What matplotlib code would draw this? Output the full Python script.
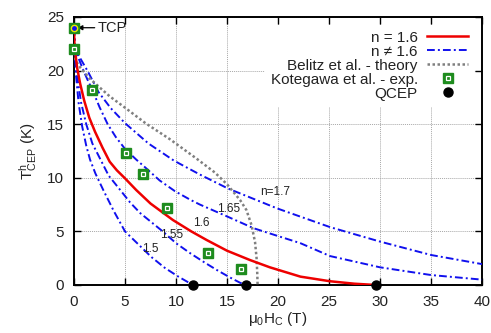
import matplotlib
matplotlib.use("Agg")
import matplotlib.pyplot as plt
from matplotlib.lines import Line2D

plt.rcParams['font.family'] = ['Liberation Sans', 'DejaVu Sans']
plt.rcParams['mathtext.default'] = 'regular'

# ---- data -------------------------------------------------------------
# n = 1.6 (red)
h_16 = [0, 0.05, 0.3, 0.6, 1.0, 1.5, 2.06, 2.8, 3.5, 4.2, 5.0, 6.1, 7.5, 9.7,
        11.5, 13.0, 15.0, 17.25, 19.2, 22.2, 25.1, 27.5, 29.6]
t_16 = [24, 22.3, 20.3, 18.8, 17.2, 15.6, 14.3, 12.8, 11.5, 10.7, 9.95, 8.86,
        7.6, 6.06, 5.0, 4.2, 3.2, 2.33, 1.65, 0.78, 0.35, 0.12, 0]

# n != 1.6 (blue)
h_15 = [0, 0.05, 0.2, 0.45, 0.8, 1.2, 1.57, 2.1, 2.9, 3.9, 5.0, 6.3, 7.6,
        8.9, 10.2, 11.2, 11.7]
t_15 = [24, 22.3, 19.5, 17.0, 14.8, 13.0, 11.7, 10.4, 8.8, 6.9, 5.0, 3.8,
        2.6, 1.6, 0.8, 0.25, 0]

h_155 = [0, 0.05, 0.3, 0.7, 1.2, 1.8, 2.6, 3.4, 4.5, 5.5, 6.5, 8.7, 10.0,
         11.4, 12.8, 14.0, 15.3, 16.3, 17.0]
t_155 = [24, 22.3, 19.5, 17.0, 15.0, 13.2, 11.7, 10.2, 8.9, 7.7, 6.7, 5.0,
         3.9, 2.96, 2.1, 1.4, 0.7, 0.2, 0]

h_165 = [0, 0.05, 0.3, 0.8, 1.3, 1.8, 2.5, 3.3, 4.1, 5.0, 6.1, 7.0, 8.4, 9.9,
         11.4, 12.35, 15.0, 17.6, 18.9, 22.2, 25.1, 30.0, 35.0, 40.0]
t_165 = [24, 22.5, 21.5, 20.3, 19.2, 18.2, 16.6, 15.0, 13.8, 12.7, 11.7,
         10.95, 9.75, 8.75, 7.95, 7.5, 6.4, 5.3, 4.9, 3.9, 2.7, 1.65, 0.93, 0.5]

h_17 = [0, 0.1, 0.4, 1.37, 2.4, 3.6, 5.0, 7.3, 9.8, 12.35, 15.1, 19.9, 25.1,
        30.0, 35.0, 40.0]
t_17 = [24, 22.5, 21.5, 19.9, 18.0, 16.5, 15.1, 13.2, 11.6, 10.3, 9.0, 7.15,
        5.4, 4.05, 2.8, 1.95]

# Belitz et al. - theory (grey)
h_bel = [0, 0.6, 1.5, 2.55, 3.5, 5.2, 7.0, 9.4, 12.0, 13.8, 15.0, 16.3, 16.9,
         17.4, 17.75, 17.9, 17.97, 18.0]
t_bel = [21.2, 20.3, 19.3, 18.4, 17.6, 16.4, 15.1, 13.6, 11.8, 10.5, 9.4,
         7.9, 7.0, 5.6, 4.0, 2.5, 1.0, 0]

# Kotegawa et al. - exp.
h_exp = [0, 0, 1.8, 5.1, 6.75, 9.1, 13.1, 16.4]
t_exp = [24, 22.0, 18.2, 12.3, 10.35, 7.2, 3.0, 1.5]

# QCEP
h_qcep = [11.7, 16.9, 29.6]
t_qcep = [0, 0, 0]

# TCP
h_tcp, t_tcp = 0, 24

# curve labels
lab_text = ['1.5', '1.55', '1.6', '1.65', 'n=1.7']
lab_h = [7.45, 9.55, 12.5, 15.2, 19.7]
lab_t = [3.4, 4.7, 5.8, 7.1, 8.7]

xticks = [0, 5, 10, 15, 20, 25, 30, 35, 40]
yticks = [0, 5, 10, 15, 20, 25]

# ---- figure -----------------------------------------------------------
fig = plt.figure(figsize=(4.91, 3.33), dpi=100)
ax = fig.add_axes([74 / 491, 48 / 333, 408 / 491, 268 / 333])

green = '#1e8c1e'
blue = '#1010ee'
dashdot = (0, (4, 1.6, 1, 1.6))

for h, t in [(h_15, t_15), (h_155, t_155), (h_165, t_165), (h_17, t_17)]:
    ax.plot(h, t, color=blue, lw=1.4, linestyle=dashdot, zorder=3)
ax.plot(h_bel, t_bel, color='#808080', lw=1.8, linestyle=(0, (1, 1)), zorder=3)
ax.plot(h_16, t_16, color='#ee0000', lw=1.8, zorder=4)

ax.plot(h_exp, t_exp, linestyle='none', marker='s', ms=7, mfc=green,
        mec=green, zorder=5, clip_on=False)
ax.plot(h_exp, t_exp, linestyle='none', marker='s', ms=3.2, mfc=green,
        mec='white', mew=0.9, zorder=6, clip_on=False)
ax.plot([h_tcp], [t_tcp], linestyle='none', marker='o', ms=4.5, mfc=blue,
        mec='#e8e800', mew=1.0, zorder=7, clip_on=False)
ax.plot(h_qcep, t_qcep, linestyle='none', marker='o', ms=6.5, color='black',
        zorder=7, clip_on=False)

for s, x, y in zip(lab_text, lab_h, lab_t):
    ax.text(x, y, s, fontsize=8.5, ha='center', va='center', color='#222222',
            zorder=6)

ax.annotate('TCP', xy=(0.35, 24), xytext=(2.3, 24), fontsize=10.5,
            va='center', ha='left', color='#222222',
            arrowprops=dict(arrowstyle='-|>', color='black', lw=0.9,
                            mutation_scale=7, shrinkA=0, shrinkB=0))

ax.set_xlim(0, 40)
ax.set_ylim(0, 25)
ax.set_xticks(xticks)
ax.set_yticks(yticks)
ax.tick_params(direction='in', top=True, right=True, length=5, width=1,
               labelsize=11, pad=7, labelcolor='#222222')
for sp in ax.spines.values():
    sp.set_linewidth(1.4)
ax.grid(True, color='#a8a8a8', linestyle=(0, (1, 1)), lw=0.7)
ax.set_axisbelow(True)

ax.set_xlabel(r'μ$_{0}$H$_{C}$ (T)', fontsize=11, color='#222222', labelpad=1)
ax.set_ylabel(r'T$^{h}_{CEP}$ (K)', fontsize=11, color='#222222', labelpad=6)

# legend
h_red = Line2D([], [], color='#ee0000', lw=1.8)
h_blue = Line2D([], [], color=blue, lw=1.4, linestyle=dashdot)
h_grey = Line2D([], [], color='#808080', lw=1.8, linestyle=(0, (1, 1)))
h_sq = (Line2D([], [], linestyle='none', marker='s', ms=7, mfc=green, mec=green),
        Line2D([], [], linestyle='none', marker='s', ms=3.2, mfc=green,
               mec='white', mew=0.9))
h_dot = Line2D([], [], linestyle='none', marker='o', ms=6.5, color='black')
leg = ax.legend([h_red, h_blue, h_grey, h_sq, h_dot],
                ['n = 1.6', 'n ≠ 1.6', 'Belitz et al. - theory',
                 'Kotegawa et al. - exp.', 'QCEP'],
                loc='upper right', markerfirst=False, fontsize=11,
                frameon=True, fancybox=False, edgecolor='none',
                facecolor='white', framealpha=1, labelspacing=0.0,
                handlelength=2.7, handletextpad=0.6, borderpad=0.4,
                borderaxespad=0.5, labelcolor='#222222')

fig.savefig('out.png', dpi=100)
